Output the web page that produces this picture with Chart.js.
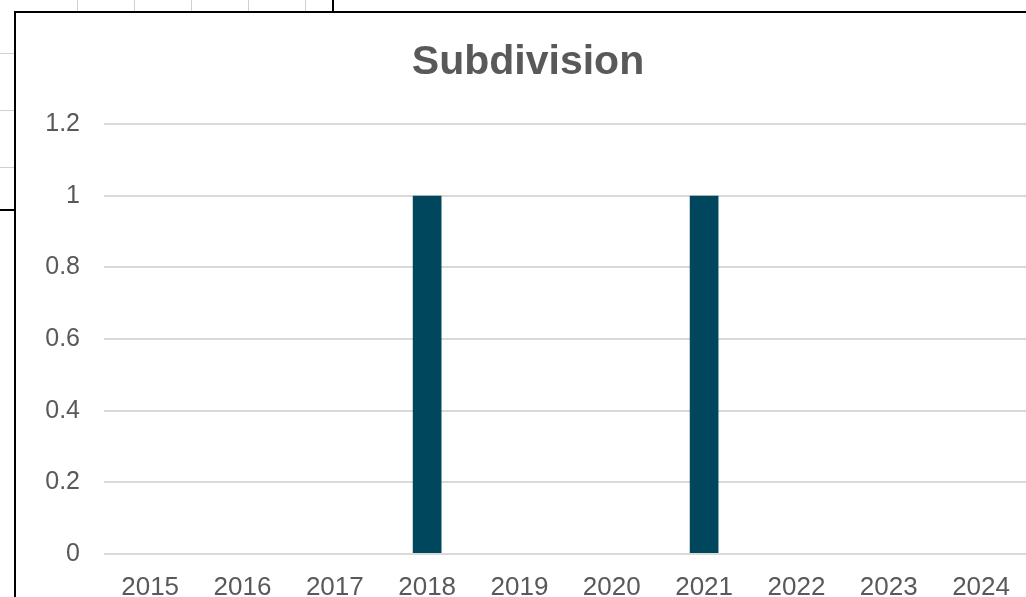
<!DOCTYPE html>
<html>
<head>
<meta charset="utf-8">
<script src="https://cdn.jsdelivr.net/npm/chart.js@4/dist/chart.umd.min.js"></script>
<style>
  html, body { margin: 0; padding: 0; width: 1026px; height: 597px; overflow: hidden; background: #fff; position: relative; }
  .bg { position: absolute; background: #d0d0d0; }
  .bk { position: absolute; background: #000; }
  #box { position: absolute; left: 14px; top: 11px; width: 1040px; height: 620px; border-left: 2px solid #000; border-top: 2px solid #000; background: #fff; }
  #c { position: absolute; left: 0; top: 0; }
</style>
</head>
<body>
<!-- partial view of the sheet behind the chart -->
<div class="bg" style="left:0;top:53px;width:14px;height:1px"></div>
<div class="bg" style="left:0;top:110px;width:14px;height:1px"></div>
<div class="bg" style="left:0;top:167px;width:14px;height:1px"></div>
<div class="bk" style="left:0;top:209px;width:14px;height:2px"></div>
<div class="bg" style="left:77px;top:0;width:1px;height:11px"></div>
<div class="bg" style="left:134px;top:0;width:1px;height:11px"></div>
<div class="bg" style="left:191px;top:0;width:1px;height:11px"></div>
<div class="bg" style="left:248px;top:0;width:1px;height:11px"></div>
<div class="bg" style="left:305px;top:0;width:1px;height:11px"></div>
<div class="bk" style="left:332px;top:0;width:2px;height:11px"></div>
<div id="box"><canvas id="c" width="1012" height="590" style="width:1012px;height:590px"></canvas></div>
<script>
const categories = ['2015', '2016', '2017', '2018', '2019', '2020', '2021', '2022', '2023', '2024'];
const subdivisionValues = [0, 0, 0, 1, 0, 0, 1, 0, 0, 0];
const yMin = 0;
const yMax = 1.2;
const yStep = 0.2;

const FONT = '"Liberation Sans", Arial, sans-serif';
const TXT = '#595959';

// the chart box is wider than the window; centre the title on the full box
const titleShift = {
  id: 'titleShift',
  afterLayout(chart) {
    if (chart.titleBlock) { chart.titleBlock.left += 6; chart.titleBlock.right += 6; }
  }
};

new Chart(document.getElementById('c'), {
  type: 'bar',
  data: {
    labels: categories,
    datasets: [{
      label: 'Subdivision',
      data: subdivisionValues,
      backgroundColor: '#00475E',
      borderWidth: 0,
      categoryPercentage: 1,
      barPercentage: 0.311
    }]
  },
  plugins: [titleShift],
  options: {
    responsive: false,
    animation: false,
    devicePixelRatio: 1,
    layout: { padding: { left: 0, right: 0, top: 0, bottom: 0 } },
    plugins: {
      legend: { display: false },
      tooltip: { enabled: false },
      title: {
        display: true,
        text: 'Subdivision',
        color: TXT,
        font: { family: FONT, size: 41, weight: 'bold', lineHeight: 1.2 },
        padding: { top: 25, bottom: 36.8 }
      }
    },
    scales: {
      x: {
        grid: { display: false, drawTicks: false },
        border: { display: false },
        ticks: { color: TXT, font: { family: FONT, size: 26 }, padding: 18, maxRotation: 0, autoSkip: false },
        afterFit(scale) { scale.height = 590 - 541; }
      },
      y: {
        min: yMin,
        max: yMax,
        grid: { color: '#d9d9d9', lineWidth: 2, drawTicks: false },
        border: { display: false },
        ticks: {
          stepSize: yStep, color: TXT, font: { family: FONT, size: 25 }, padding: 24,
          callback(v) { return String(Math.round(v * 10) / 10); }
        },
        afterFit(scale) { scale.width = 88; }
      }
    }
  }
});
</script>
</body>
</html>
